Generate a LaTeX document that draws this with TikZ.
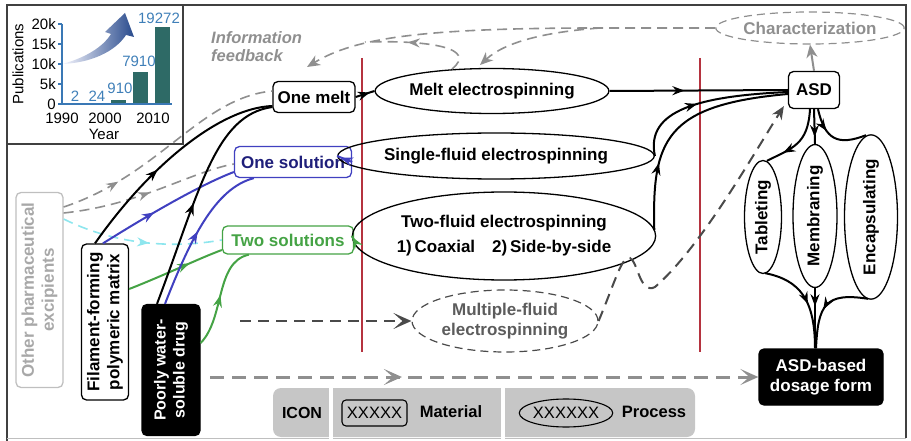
\documentclass[tikz,border=0pt]{standalone}
\usepackage{fontspec}
\setmainfont{Liberation Sans}
\usetikzlibrary{shapes.geometric,arrows.meta,decorations.markings,calc}
\definecolor{bluec}{HTML}{4040C0}
\definecolor{bluetxt}{HTML}{1F1F7A}
\definecolor{greenc}{HTML}{45A345}
\definecolor{cyanc}{HTML}{8EE6EE}
\definecolor{fbgray}{HTML}{8F8F8F}
\definecolor{dkgray}{HTML}{4A4A4A}
\definecolor{excgray}{HTML}{A8A8A8}
\definecolor{leggray}{HTML}{C6C6C6}
\definecolor{redc}{HTML}{B5333F}
\definecolor{barc}{HTML}{2E6A66}
\definecolor{axisc}{HTML}{3A78B5}
\definecolor{numc}{HTML}{3F7FB8}
\definecolor{arrdark}{HTML}{284A8C}
\tikzset{
  mat/.style={draw, rounded corners=5pt, line width=1.3pt, inner sep=0pt, align=center},
  proc/.style={draw, ellipse, line width=1.3pt, inner sep=0pt, align=center},
  dproc/.style={proc, line width=1.2pt, dash pattern=on 8pt off 5pt},
  conn/.style={line width=2pt},
  fbline/.style={dash pattern=on 10pt off 6pt, line width=1.6pt},
  midarr/.style={postaction={decorate},decoration={markings,mark=at position #1 with {\arrow{Stealth[length=12pt,width=9pt,inset=4pt]}}}},
  bigmid/.style={postaction={decorate},decoration={markings,mark=at position #1 with {\arrow{Stealth[length=18pt,width=16pt,inset=9pt]}}}},
  endarr/.style={-{Stealth[length=13pt,width=11pt,inset=4pt]}},
  bigend/.style={-{Stealth[length=18pt,width=16pt,inset=9pt]}},
  big/.style={font=\bfseries\fontsize{17}{20}\selectfont},
  small/.style={font=\fontsize{15}{17}\selectfont},
}
\begin{document}
\begin{tikzpicture}[x=1pt,y=-1pt,big]
\useasboundingbox (0,0) rectangle (911,441);
% frame
\draw[line width=1.2pt, black!75] (7,441) -- (7,5) -- (906,5) -- (906,438);
\draw[line width=0.8pt, black!25] (7,438) -- (906,438);
\draw[line width=1.2pt, black!75] (7,144) -- (183,144) -- (183,5);
% inset chart
\shade[left color=blue!3, right color=arrdark] (62,64) .. controls (85,58) and (103,47) .. (111,34) -- (105,32) -- (125,13) -- (134,37) -- (126,35) .. controls (115,52) and (90,63) .. (62,64) -- cycle;
\foreach \xc/\h in {75/0.4,97/0.4,118/3.6,140/31.6,162/77.1}{
  \fill[barc] (\xc-7.5,104) rectangle (\xc+7.5,104-\h);
}
\draw[axisc, line width=1.5pt] (62,24) -- (62,104) -- (172,104);
\foreach \yy/\lab in {24/20k,44/15k,64/10k,84/5k,104/0}{
  \draw[axisc, line width=1.2pt] (58,\yy) -- (62,\yy);
  \node[small, anchor=east, inner sep=1pt] (t\lab) at (57,\yy) {\lab};
}
\node[small] (y1990) at (62,118) {1990};
\node[small] (y2000) at (105,118) {2000};
\node[small] (y2010) at (153,118) {2010};
\node[small] (yr) at (104,134) {Year};
\node[small, rotate=90] (pub) at (18,64) {Publications};
\node[small, text=numc] (n1) at (75,96) {2};
\node[small, text=numc] (n2) at (97,96) {24};
\node[small, text=numc] (n3) at (120,88) {910};
\node[small, text=numc] (n4) at (139,61) {7910};
\node[small, text=numc] (n5) at (159,18) {19272};
% red lines
\draw[redc, line width=1.1pt] (362,58) -- (362,352);
\draw[redc, line width=1.1pt] (700,58) -- (700,352);
% nodes
\node[mat, minimum width=82pt, minimum height=31pt] (melt) at (314,97) {One melt};
\node[proc, minimum width=199pt, minimum height=45pt] (meltES) at (492,91) {Melt electrospinning};
\node[mat, draw=bluec, text=bluetxt, minimum width=117pt, minimum height=31pt] (sol1) at (293,162) {One solution};
\node[proc, minimum width=248pt, minimum height=46pt] (singleES) at (496,156) {Single-fluid electrospinning};
\node[mat, draw=greenc, text=greenc, minimum width=131pt, minimum height=28pt] (sol2) at (288,240) {Two solutions};
\node[proc, minimum width=264pt, minimum height=88pt] (twoES) at (504,236) {Two-fluid electrospinning\\[5pt]1)\,Coaxial\quad 2)\,Side-by-side};
\node[dproc, draw=dkgray, text=dkgray!90, minimum width=186pt, minimum height=62pt] (multiES) at (505,321) {Multiple-fluid\\electrospinning};
\node[dproc, draw=fbgray, text=fbgray, minimum width=171pt, minimum height=32pt] (charac) at (810,28) {Characterization};
\node[mat, minimum width=51pt, minimum height=37pt] (asd) at (814,90) {ASD};
\node[proc, rotate=90, minimum width=113pt, minimum height=37pt] (tab) at (763,217) {Tableting};
\node[proc, rotate=90, minimum width=128pt, minimum height=44pt] (mem) at (815,216) {Membraning};
\node[proc, rotate=90, minimum width=144pt, minimum height=53pt] (enc) at (871,217) {Encapsulating};
\node[mat, fill=black, text=white, minimum width=124pt, minimum height=56pt] (dosage) at (821,377) {ASD-based\\dosage form};
\node[mat, rotate=90, draw=black!25, text=excgray, minimum width=195pt, minimum height=47pt] (exc) at (39.5,290) {Other pharmaceutical\\excipients};
\node[mat, rotate=90, minimum width=156pt, minimum height=47pt] (fil) at (105,322) {Filament-forming\\polymeric matrix};
\node[mat, rotate=90, fill=black, text=white, font=\bfseries\fontsize{16}{19}\selectfont, minimum width=131pt, minimum height=58pt] (drug) at (171,370) {Poorly water-\\soluble drug};
\node[anchor=north west, align=left, text=fbgray, font=\bfseries\itshape\fontsize{16.5}{18}\selectfont, inner sep=0pt] (info) at (211,31) {Information\\feedback};
% legend
\fill[leggray, rounded corners=8pt] (273,388) rectangle (695,437);
\draw[white, line width=4pt] (330.5,386) -- (330.5,439);
\draw[white, line width=4pt] (503,386) -- (503,439);
\node[font=\bfseries\fontsize{16}{18}\selectfont] (licon) at (302,413) {ICON};
\node[mat, line width=1.1pt, rounded corners=4pt, font=\fontsize{16.5}{18}\selectfont, minimum width=65pt, minimum height=26pt] (lmat) at (374.5,413) {XXXXX};
\node[font=\bfseries\fontsize{16.5}{18}\selectfont] (lmatt) at (451,412) {Material};
\node[proc, line width=1.1pt, font=\fontsize{16.5}{18}\selectfont, minimum width=88pt, minimum height=28pt] (lproc) at (566,413) {XXXXXX};
\node[font=\bfseries\fontsize{16.5}{18}\selectfont] (lproct) at (654,412) {Process};
% coordinates
\coordinate (fbj) at (600,28);
\coordinate (fbt) at (307,67);
\coordinate (mltop) at (480,65);
\coordinate (mlloop) at (452,69);
\coordinate (mrg) at (365,42);
\coordinate (dsh) at (240,321);
\coordinate (bdsh) at (210,377);
% feedback
\draw[fbgray, fbline, endarr] (charac.west) -- (fbj) .. controls (420,28) and (355,38) .. (fbt);
\draw[fbgray, fbline, endarr] (fbj) .. controls (545,32) and (505,42) .. (mltop);
\draw[fbgray, fbline, midarr=0.62] (mlloop) .. controls (478,48) and (430,40) .. (mrg);
% inputs
\draw[fbgray, fbline, midarr=0.25] ($(exc.south)+(0,-83)$) .. controls (160,175) and (200,98) .. ($(melt.west)+(0,-6)$);
\draw[fbgray, fbline, midarr=0.5] ($(exc.south)+(0,-77)$) .. controls (140,205) and (190,172) .. ($(sol1.west)+(0,2)$);
\draw[cyanc, fbline, midarr=0.55] ($(exc.south)+(0,-71)$) .. controls (110,242) and (165,250) .. (sol2.west);
\draw[conn, midarr=0.42] ($(fil.east)+(-10,0)$) .. controls (150,165) and (220,108) .. ($(melt.west)+(0,9)$);
\draw[conn, bluec, midarr=0.4] ($(fil.east)+(-2,0)$) .. controls (150,214) and (200,185) .. ($(sol1.west)+(0,10)$);
\draw[conn, greenc, midarr=0.65] ($(fil.south)+(0,-33)$) .. controls (165,275) and (200,258) .. ($(sol2.west)+(0,10)$);
\draw[conn, midarr=0.45] ($(drug.east)+(-14,0)$) .. controls (200,190) and (215,115) .. ($(melt.west)+(0,10)$);
\draw[conn, bluec, midarr=0.5] ($(drug.east)+(-6,0)$) .. controls (190,240) and (215,188) .. ($(sol1.south west)+(20,0)$);
\draw[conn, greenc, midarr=0.5] ($(drug.south)+(0,-27)$) .. controls (225,318) and (215,262) .. ($(sol2.south west)+(27,0)$);
% to processes
\draw[conn, midarr=0.75] (melt.east) -- (meltES.west);
\draw[conn, bluec, midarr=0.75] (sol1.east) -- (singleES.west);
\draw[conn, greenc, midarr=0.75] (sol2.east) -- (twoES.west);
\draw[dkgray, dash pattern=on 11pt off 7pt, line width=2pt, bigend] (dsh) -- (multiES.west);
% to ASD
\draw[conn, midarr=0.42] (meltES.east) -- (asd.west);
\draw[conn, midarr=0.45] (singleES.east) .. controls (645,110) and (700,96) .. ($(asd.west)+(0,2)$);
\draw[conn, midarr=0.3] ($(twoES.east)+(-2,-6)$) .. controls (652,140) and (665,105) .. ($(asd.west)+(0,4)$);
\draw[dkgray, dash pattern=on 11pt off 7pt, line width=2pt, endarr] (multiES.east) .. controls (615,282) and (622,255) .. (630,258) .. controls (638,262) and (640,295) .. (655,287) .. controls (700,248) and (750,160) .. ($(asd.south west)+(-4,-3)$);
\draw[fbgray, line width=2pt, endarr] (asd.north) -- (charac.south);
% ASD to forms
\draw[conn, midarr=0.75] ($(asd.south)+(-4,0)$) .. controls (808,145) and (792,148) .. ($(tab.east)+(4,1)$);
\draw[conn, midarr=0.8] (asd.south) -- (mem.east);
\draw[conn, midarr=0.35] ($(asd.south)+(4,0)$) .. controls (825,140) and (838,146) .. ($(enc.east)+(-5,1)$);
\draw[conn, midarr=0.55] ($(tab.west)+(2,-1)$) .. controls (800,280) and (815,300) .. ($(dosage.north)+(-6,0)$);
\draw[conn, midarr=0.3] (mem.west) -- ($(dosage.north)+(-6,0)$);
\draw[conn, midarr=0.55] ($(enc.west)+(-3,-1)$) .. controls (825,292) and (818,305) .. ($(dosage.north)+(-5,0)$);
% bottom dashed
\draw[fbgray, dash pattern=on 14pt off 8pt, line width=3pt, bigmid=0.35, bigend] (bdsh) -- (dosage.west);
\end{tikzpicture}
\end{document}
